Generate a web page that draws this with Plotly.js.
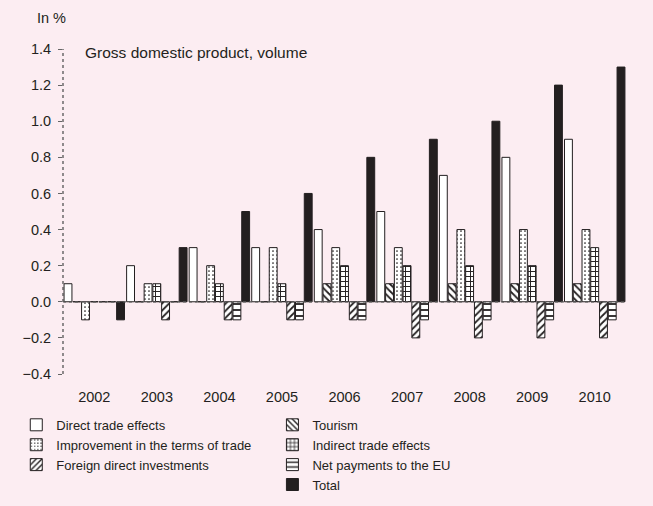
<!DOCTYPE html>
<html>
<head>
<meta charset="utf-8">
<script src="https://cdn.plot.ly/plotly-3.0.1.min.js"></script>
<style>html,body{margin:0;padding:0;background:#fcedf2;}#chart{width:653px;height:506px;}</style>
</head>
<body>
<div id="chart"></div>
<script>
var years = ["2002","2003","2004","2005","2006","2007","2008","2009","2010"];
var directTrade   = [0.1, 0.2, 0.3, 0.3, 0.4, 0.5, 0.7, 0.8, 0.9];
var tourism       = [0.0, 0.0, 0.0, 0.0, 0.1, 0.1, 0.1, 0.1, 0.1];
var termsOfTrade  = [-0.1, 0.1, 0.2, 0.3, 0.3, 0.3, 0.4, 0.4, 0.4];
var indirectTrade = [0.0, 0.1, 0.1, 0.1, 0.2, 0.2, 0.2, 0.2, 0.3];
var fdi           = [0.0, -0.1, -0.1, -0.1, -0.1, -0.2, -0.2, -0.2, -0.2];
var netPaymentsEU = [0.0, 0.0, -0.1, -0.1, -0.1, -0.1, -0.1, -0.1, -0.1];
var total         = [-0.1, 0.3, 0.5, 0.6, 0.8, 0.9, 1.0, 1.2, 1.3];
var yTicks = [-0.4, -0.2, 0.0, 0.2, 0.4, 0.6, 0.8, 1.0, 1.2, 1.4];

var ink = "#231f20";
var font = "Liberation Sans, Arial, sans-serif";

function tr(name, y, pattern, color, legend) {
  var m = {color: color || "#ffffff", line: {color: ink, width: 1}};
  if (pattern) m.pattern = pattern;
  return {type: "bar", name: name, x: years, y: y, marker: m, legend: legend, hoverinfo: "x+y+name"};
}

var data = [
  tr("Direct trade effects", directTrade, null, "#ffffff", "legend"),
  tr("Tourism", tourism, {shape: "\\", fgcolor: ink, bgcolor: "#ffffff", size: 5, solidity: 0.35}, null, "legend2"),
  tr("Improvement in the terms of trade", termsOfTrade, {shape: ".", fgcolor: ink, bgcolor: "#ffffff", size: 4, solidity: 0.15}, null, "legend"),
  tr("Indirect trade effects", indirectTrade, {shape: "+", fgcolor: ink, bgcolor: "#ffffff", size: 5, solidity: 0.35}, null, "legend2"),
  tr("Foreign direct investments", fdi, {shape: "/", fgcolor: ink, bgcolor: "#ffffff", size: 5, solidity: 0.35}, null, "legend"),
  tr("Net payments to the EU", netPaymentsEU, {shape: "-", fgcolor: ink, bgcolor: "#ffffff", size: 6, solidity: 0.3}, null, "legend2"),
  tr("Total", total, null, ink, "legend2")
];

var legendFont = {family: font, size: 13, color: ink};

var layout = {
  width: 653, height: 506,
  margin: {l: 63, r: 27, t: 49, b: 132, autoexpand: false},
  paper_bgcolor: "#fcedf2",
  plot_bgcolor: "#fcedf2",
  font: {family: font, color: ink, size: 14},
  barmode: "group",
  bargap: 0.02,
  bargroupgap: 0.1,
  showlegend: true,
  xaxis: {
    type: "category",
    range: [-0.5, 8.5],
    showgrid: false, zeroline: false, showline: false,
    ticks: "outside", ticklen: 10, tickcolor: "rgba(0,0,0,0)",
    tickfont: {family: font, size: 14.5, color: ink}
  },
  yaxis: {
    range: [-0.4, 1.4],
    tickvals: yTicks,
    tickformat: ".1f",
    showgrid: false, zeroline: false, showline: false,
    ticks: "outside", ticklen: 4, tickcolor: "#666",
    ticklabelstandoff: 4,
    tickfont: {family: font, size: 14.5, color: ink}
  },
  shapes: [
    {type: "line", xref: "paper", yref: "y", x0: 0, x1: 1, y0: 0, y1: 0,
     line: {color: "#555", width: 1.3, dash: "dot"}, layer: "above"},
    {type: "line", xref: "paper", yref: "y", x0: 0, x1: 0, y0: -0.4, y1: 1.41,
     line: {color: "#555", width: 1.3, dash: "dot"}, layer: "above"}
  ],
  annotations: [
    {text: "In %", xref: "paper", yref: "paper", x: 0.009, y: 1.095, xanchor: "right", yanchor: "middle",
     showarrow: false, font: {family: font, size: 14.5, color: ink}},
    {text: "Gross domestic product, volume", xref: "paper", yref: "paper", x: 0.035, y: 0.99,
     xanchor: "left", yanchor: "middle", showarrow: false, font: {family: font, size: 15.5, color: ink}}
  ],
  legend: {
    orientation: "v",
    x: -0.083, xanchor: "left",
    yref: "container", y: 0.19, yanchor: "top",
    traceorder: "normal",
    bgcolor: "rgba(0,0,0,0)",
    font: legendFont
  },
  legend2: {
    orientation: "v",
    x: 0.372, xanchor: "left",
    yref: "container", y: 0.19, yanchor: "top",
    traceorder: "normal",
    bgcolor: "rgba(0,0,0,0)",
    font: legendFont
  }
};

Plotly.newPlot("chart", data, layout, {displayModeBar: false, staticPlot: true});
</script>
</body>
</html>
